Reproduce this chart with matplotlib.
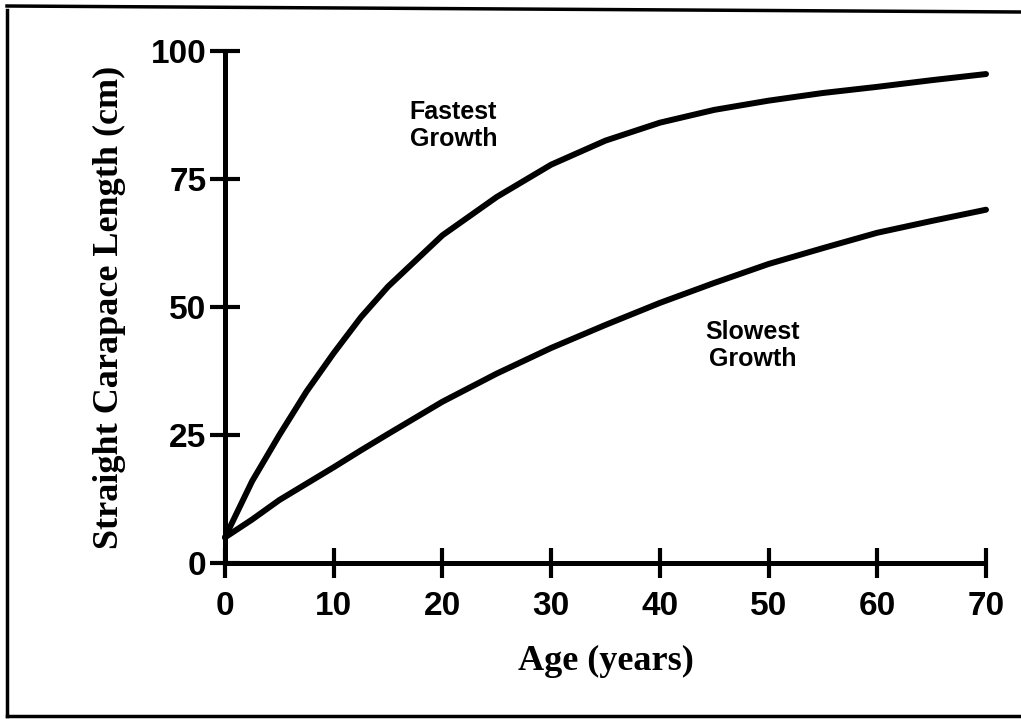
import numpy as np
import matplotlib
matplotlib.use("Agg")
import matplotlib.pyplot as plt
from matplotlib.lines import Line2D

# values
age = [0, 2.5, 5, 7.5, 10, 12.5, 15, 20, 25, 30, 35, 40, 45, 50, 55, 60, 65, 70]
fastest = [5, 16, 25, 33.5, 41, 48, 54, 64, 71.5, 77.8, 82.5, 86, 88.5, 90.3, 91.8, 93, 94.3, 95.5]
slowest = [5, 8.5, 12.3, 15.5, 18.7, 22, 25.2, 31.5, 37, 42, 46.5, 50.8, 54.7, 58.4, 61.5, 64.5, 66.8, 69]
x_ticks = [0, 10, 20, 30, 40, 50, 60, 70]
y_ticks = [0, 25, 50, 75, 100]

sans = "Liberation Sans"
serif = "Liberation Serif"

fig = plt.figure(figsize=(10.21, 7.19), dpi=100)
ax = fig.add_axes([225 / 1021, 1 - 563 / 719, 761 / 1021, 512 / 719])

ax.plot(age, fastest, color="black", lw=4.3, solid_capstyle="round",
        solid_joinstyle="round", clip_on=False)
ax.plot(age, slowest, color="black", lw=4.3, solid_capstyle="round",
        solid_joinstyle="round", clip_on=False)

ax.set_xlim(0, 70)
ax.set_ylim(0, 100)
for s in ["top", "right"]:
    ax.spines[s].set_visible(False)
for s in ["left", "bottom"]:
    ax.spines[s].set_linewidth(3.6)
    ax.spines[s].set_capstyle("butt")

ax.set_xticks(x_ticks)
ax.set_yticks(y_ticks)
ax.tick_params(direction="inout", length=21, width=3, color="black")
ax.tick_params(axis="x", pad=10)
ax.tick_params(axis="y", pad=3)
for lab in ax.get_xticklabels() + ax.get_yticklabels():
    lab.set_fontfamily(sans)
    lab.set_fontweight("bold")
    lab.set_fontsize(24)

ax.set_xlabel("Age (years)", fontfamily=serif, fontweight="bold", fontsize=26, labelpad=16)
ax.set_ylabel("Straight Carapace Length (cm)", fontfamily=serif, fontweight="bold",
              fontsize=26, labelpad=18)

ax.text(21, 85.5, "Fastest\nGrowth", fontfamily=sans, fontweight="bold", fontsize=18,
        ha="center", va="center", linespacing=1.15)
ax.text(48.5, 42.5, "Slowest\nGrowth", fontfamily=sans, fontweight="bold", fontsize=18,
        ha="center", va="center", linespacing=1.15)

# border of the scanned page
W, H = 1021, 719
for xs, ys in [([7, 7], [10, 716]), ([7, 1021], [716, 716]), ([7, 1021], [6, 12])]:
    fig.add_artist(Line2D([x / W for x in xs], [1 - y / H for y in ys],
                          transform=fig.transFigure, color="black", lw=2.5))

fig.savefig("out.png", dpi=100)
